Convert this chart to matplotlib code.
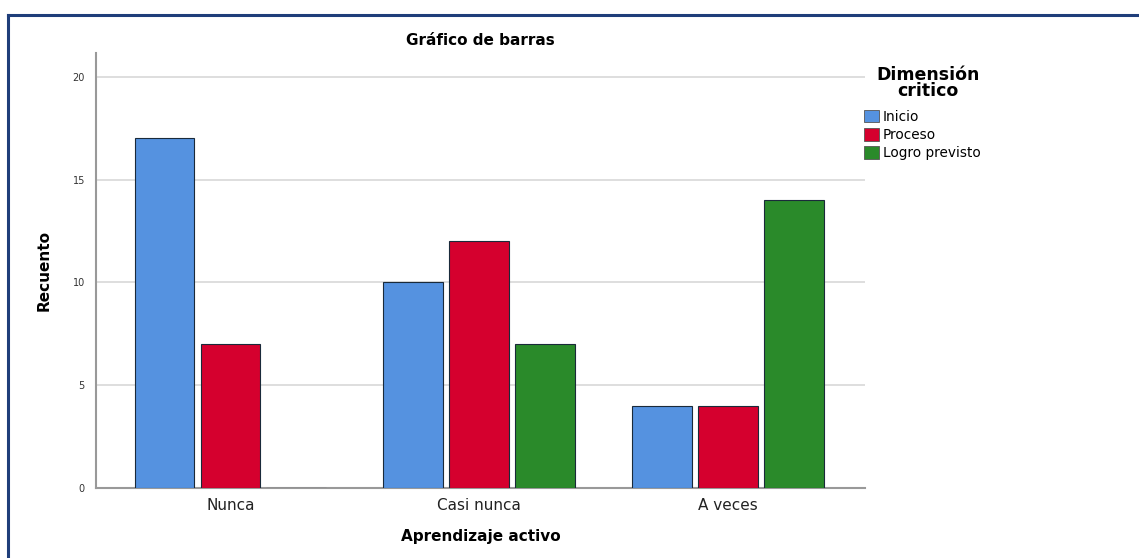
import numpy as np
import matplotlib.pyplot as plt
from matplotlib.patches import Patch
from matplotlib.lines import Line2D

categorias = ['Nunca', 'Casi nunca', 'A veces']
series = ['Inicio', 'Proceso', 'Logro previsto']
inicio = [17, 10, 4]
proceso = [7, 12, 4]
logro = [0, 7, 14]
colores = ['#5592e0', '#d5002e', '#2a8a2a']

plt.rcParams['font.family'] = ['DejaVu Sans']

fig = plt.figure(figsize=(11.39, 5.58), dpi=100)
ax = fig.add_axes([0.0843, 0.1254, 0.6751, 0.7796])

x = np.arange(len(categorias))
ancho = 0.24
paso = 0.265
for i, (vals, col) in enumerate(zip([inicio, proceso, logro], colores)):
    ax.bar(x + (i - 1) * paso, vals, width=ancho, color=col,
           edgecolor='#1a2a3a', linewidth=0.8, zorder=3)

ax.set_xlim(-0.54, 2.55)
ax.set_ylim(0, 21.15)
ax.set_yticks([0, 5, 10, 15, 20])
ax.set_yticklabels(['0', '5', '10', '15', '20'], fontsize=7, color='#333333')
ax.set_xticks(x)
ax.set_xticklabels(categorias, fontsize=11, color='#222222')
ax.tick_params(axis='both', length=0, pad=8)
ax.tick_params(axis='x', pad=7)
ax.grid(axis='y', color='#d8d8d8', linewidth=1.2, zorder=0)
for s in ['top', 'right']:
    ax.spines[s].set_visible(False)
for s in ['left', 'bottom']:
    ax.spines[s].set_color('#999999')
    ax.spines[s].set_linewidth(1.5)

ax.set_title('Gráfico de barras', fontsize=11, fontweight='bold', pad=6)
ax.set_ylabel('Recuento', fontsize=11, fontweight='bold', labelpad=15)
ax.set_xlabel('Aprendizaje activo', fontsize=11, fontweight='bold', labelpad=12)

# leyenda: titulo aparte para centrarlo
fig.text(928 / 1139, 1 - 66 / 558, 'Dimensión\ncritico', ha='center', va='top',
         fontsize=12.5, fontweight='bold', linespacing=0.85, multialignment='center')
handles = [Patch(facecolor=c, edgecolor='#555555', linewidth=0.6) for c in colores]
fig.legend(handles, series, loc='upper left',
           bbox_to_anchor=(864 / 1139, 1 - 110 / 558), frameon=False, fontsize=9.8,
           handlelength=1.1, handleheight=1.0, handletextpad=0.3,
           labelspacing=0.3, borderaxespad=0, borderpad=0)

# marco del recuadro
fig.add_artist(Line2D([8 / 1139, 1.0], [1 - 15 / 558, 1 - 15 / 558],
                      color='#1f3e7a', linewidth=2.2, transform=fig.transFigure))
fig.add_artist(Line2D([8 / 1139, 8 / 1139], [0, 1 - 15 / 558],
                      color='#1f3e7a', linewidth=2.2, transform=fig.transFigure))

fig.savefig('out.png', dpi=100)
